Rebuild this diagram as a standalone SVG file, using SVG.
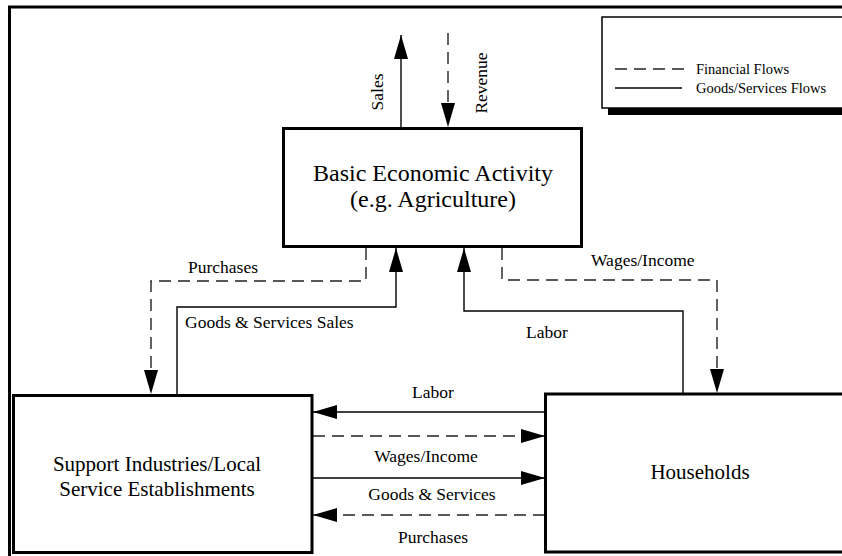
<svg xmlns="http://www.w3.org/2000/svg" width="842" height="556" viewBox="0 0 842 556">
<style>
text{font-family:"Liberation Serif","Times New Roman",serif;fill:#000}
.box{fill:#fff;stroke:#000;stroke-width:3}
.node{font-size:21px;text-anchor:middle}
.big{font-size:24px}
.lbl{font-size:17.5px}
.mid{text-anchor:middle}
.c{fill:none;stroke:#000;stroke-width:1.4}
.d{stroke-dasharray:12 7;stroke:#222}
.leg{font-size:14.5px}
</style>
<defs>
<marker id="ah" markerUnits="userSpaceOnUse" markerWidth="26" markerHeight="16" refX="24" refY="7" orient="auto">
<path d="M0 0 L24 7 L0 14 Z" fill="#000"/>
</marker>
</defs>
<rect width="842" height="556" fill="#fff"/>
<path d="M9.5 560 V7 H846" fill="none" stroke="#000" stroke-width="3"/>
<g id="legend">
<rect x="608" y="23" width="260" height="92" fill="#000"/>
<rect x="602" y="17" width="260" height="91" fill="#fff" stroke="#000" stroke-width="1.5"/>
<line x1="615" y1="69" x2="686" y2="69" class="c d"/>
<line x1="615" y1="88" x2="682" y2="88" class="c"/>
<text x="696" y="74" class="leg">Financial Flows</text>
<text x="696" y="93" class="leg">Goods/Services Flows</text>
</g>
<g id="connectors">
<path d="M401 128 V35" class="c" marker-end="url(#ah)"/>
<path d="M448 33 V127" class="c d" marker-end="url(#ah)"/>
<path d="M366 248 V281 H151 V394" class="c d" marker-end="url(#ah)"/>
<path d="M177 394 V307 H396 V248" class="c" marker-end="url(#ah)"/>
<path d="M683 393 V311 H464 V248" class="c" marker-end="url(#ah)"/>
<path d="M502 248 V280 H717 V393" class="c d" marker-end="url(#ah)"/>
<path d="M545 412 H313" class="c" marker-end="url(#ah)"/>
<path d="M313 436 H545" class="c d" marker-end="url(#ah)"/>
<path d="M313 478 H545" class="c" marker-end="url(#ah)"/>
<path d="M545 515 H313" class="c d" marker-end="url(#ah)"/>
</g>
<g id="labels">
<text class="lbl mid" transform="translate(383 92) rotate(-90)">Sales</text>
<text class="lbl mid" transform="translate(487 83) rotate(-90)">Revenue</text>
<text x="188" y="273" class="lbl">Purchases</text>
<text x="185" y="328" class="lbl">Goods &amp; Services Sales</text>
<text x="591" y="266" class="lbl">Wages/Income</text>
<text x="526" y="338" class="lbl">Labor</text>
<text x="433" y="398" class="lbl mid">Labor</text>
<text x="426" y="462" class="lbl mid">Wages/Income</text>
<text x="432" y="500" class="lbl mid">Goods &amp; Services</text>
<text x="433" y="543" class="lbl mid">Purchases</text>
</g>
<g id="basic">
<rect x="283.5" y="128.5" width="298" height="118" class="box"/>
<text x="433" y="181" class="node big">Basic Economic Activity</text>
<text x="433" y="207" class="node big">(e.g. Agriculture)</text>
</g>
<g id="support">
<rect x="13.5" y="395.5" width="298.5" height="157" class="box"/>
<text x="157" y="471" class="node">Support Industries/Local</text>
<text x="157" y="496" class="node">Service Establishments</text>
</g>
<g id="households">
<rect x="545.5" y="394" width="310" height="158" class="box"/>
<text x="700" y="479" class="node">Households</text>
</g>
</svg>
